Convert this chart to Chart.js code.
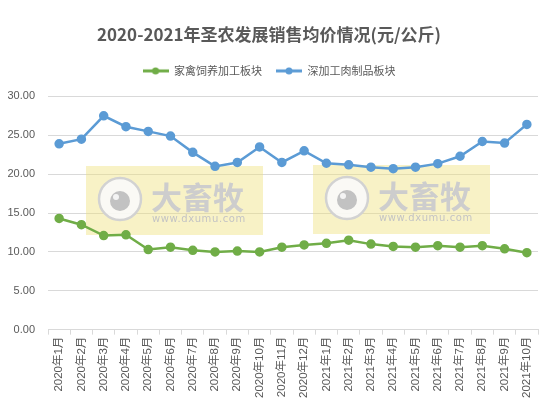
<!DOCTYPE html>
<html>
<head>
<meta charset="utf-8">
<script src="https://cdn.jsdelivr.net/npm/chart.js@4"></script>
<style>
  html, body { margin: 0; padding: 0; background: #fff; }
  #wrap { width: 548px; height: 406px; }
</style>
</head>
<body>
<div id="wrap"><canvas id="priceChart" width="548" height="406"></canvas></div>
<script>
// categories and series
const months = [
  '2020年1月', '2020年2月', '2020年3月', '2020年4月', '2020年5月', '2020年6月',
  '2020年7月', '2020年8月', '2020年9月', '2020年10月', '2020年11月', '2020年12月',
  '2021年1月', '2021年2月', '2021年3月', '2021年4月', '2021年5月', '2021年6月',
  '2021年7月', '2021年8月', '2021年9月', '2021年10月'
];
const poultry = [14.3, 13.5, 12.1, 12.2, 10.3, 10.6, 10.2, 10.0, 10.1, 10.0, 10.6, 10.9,
                 11.1, 11.5, 11.0, 10.7, 10.6, 10.8, 10.6, 10.8, 10.4, 9.9];
const processed = [23.9, 24.5, 27.5, 26.1, 25.5, 24.9, 22.8, 21.0, 21.5, 23.5, 21.5, 23.0,
                   21.4, 21.2, 20.9, 20.7, 20.9, 21.35, 22.3, 24.2, 24.0, 26.4];
const seriesNames = ['家禽饲养加工板块', '深加工肉制品板块'];
const yTicks = [0, 5, 10, 15, 20, 25, 30];

const GREEN = '#70ad47';
const BLUE = '#5b9bd5';
const FONT = '"Liberation Sans", "Noto Sans CJK SC", sans-serif';

// legend marker: short line with a dot in the middle
function legendMarker(color) {
  const c = document.createElement('canvas');
  c.width = 26; c.height = 8;
  const g = c.getContext('2d');
  g.strokeStyle = color;
  g.lineWidth = 3;
  g.beginPath(); g.moveTo(0, 4); g.lineTo(26, 4); g.stroke();
  g.fillStyle = color;
  g.beginPath(); g.arc(13, 4, 3.5, 0, Math.PI * 2); g.fill();
  return c;
}

// a bit more room under the legend
const legendGap = {
  id: 'legendGap',
  beforeInit(chart) {
    const fit = chart.legend.fit;
    chart.legend.fit = function () {
      fit.call(this);
      this.height += 10;
    };
  }
};

// the "大畜牧" watermark boxes
const watermark = {
  id: 'watermark',
  beforeDatasetsDraw(chart) {
    const ctx = chart.ctx;
    const boxes = [[86, 166], [313, 165]];
    ctx.save();
    boxes.forEach(([x, y]) => {
      ctx.fillStyle = 'rgba(238, 224, 120, 0.42)';
      ctx.fillRect(x, y, 177, 69);
      // logo circle
      ctx.beginPath();
      ctx.arc(x + 34, y + 33, 21, 0, Math.PI * 2);
      ctx.fillStyle = 'rgba(250,250,250,0.9)';
      ctx.fill();
      ctx.lineWidth = 2.5;
      ctx.strokeStyle = '#d2d2d2';
      ctx.stroke();
      ctx.beginPath();
      ctx.arc(x + 34, y + 35, 10, 0, Math.PI * 2);
      ctx.fillStyle = '#c2c2c2';
      ctx.fill();
      ctx.beginPath();
      ctx.arc(x + 30, y + 31, 3, 0, Math.PI * 2);
      ctx.fillStyle = '#f4f4f4';
      ctx.fill();
      ctx.fillStyle = '#cdcdcd';
      ctx.textBaseline = 'middle';
      ctx.textAlign = 'left';
      ctx.font = 'bold 31px "Noto Sans CJK SC", sans-serif';
      ctx.fillText('大畜牧', x + 65, y + 31);
      ctx.font = '10px "DejaVu Sans", sans-serif';
      ctx.fillStyle = '#c4c4c4';
      if ('letterSpacing' in ctx) ctx.letterSpacing = '0.6px';
      ctx.fillText('www.dxumu.com', x + 66, y + 53);
      if ('letterSpacing' in ctx) ctx.letterSpacing = '0px';
    });
    ctx.restore();
  }
};

new Chart(document.getElementById('priceChart').getContext('2d'), {
  type: 'line',
  data: {
    labels: months,
    datasets: [{
      label: seriesNames[0],
      data: poultry,
      borderColor: GREEN,
      backgroundColor: GREEN,
      borderWidth: 2.5,
      pointRadius: 3.5,
      pointBackgroundColor: GREEN,
      pointBorderColor: GREEN,
      pointStyle: 'circle',
      tension: 0
    }, {
      label: seriesNames[1],
      data: processed,
      borderColor: BLUE,
      backgroundColor: BLUE,
      borderWidth: 2.5,
      pointRadius: 3.5,
      pointBackgroundColor: BLUE,
      pointBorderColor: BLUE,
      pointStyle: 'circle',
      tension: 0
    }]
  },
  options: {
    responsive: false,
    animation: false,
    devicePixelRatio: 1,
    layout: { padding: { left: 0, right: 10, top: 8, bottom: 6 } },
    plugins: {
      title: {
        display: true,
        text: '2020-2021年圣农发展销售均价情况(元/公斤)',
        color: '#595959',
        font: { family: '"Noto Sans CJK SC", sans-serif', size: 17, weight: 'bold' },
        padding: { top: 16, bottom: 7 }
      },
      legend: {
        position: 'top',
        labels: {
          color: '#595959',
          font: { family: '"Noto Sans CJK SC", sans-serif', size: 11 },
          usePointStyle: true,
          pointStyleWidth: 26,
          generateLabels(chart) {
            return chart.data.datasets.map((ds, i) => ({
              text: ds.label,
              pointStyle: legendMarker(ds.borderColor),
              fillStyle: ds.borderColor,
              strokeStyle: ds.borderColor,
              lineWidth: 0,
              fontColor: '#595959',
              datasetIndex: i,
              hidden: false
            }));
          },
          padding: 14
        }
      },
      tooltip: { enabled: false }
    },
    scales: {
      x: {
        offset: true,
        grid: {
          display: true,
          drawOnChartArea: false,
          drawTicks: true,
          tickLength: 5,
          offset: true,
          color: '#d9d9d9'
        },
        border: { color: '#d9d9d9' },
        ticks: {
          color: '#595959',
          font: { family: FONT, size: 11.5 },
          maxRotation: 90,
          minRotation: 90,
          autoSkip: false,
          padding: 2
        }
      },
      y: {
        min: 0,
        max: 30,
        afterBuildTicks(scale) {
          scale.ticks = yTicks.map(v => ({ value: v }));
        },
        afterFit(scale) {
          scale.width = 48;
        },
        grid: { color: '#d9d9d9', drawTicks: false },
        border: { display: false },
        ticks: {
          color: '#595959',
          font: { family: FONT, size: 11 },
          padding: 13,
          callback: v => v.toFixed(2)
        }
      }
    }
  },
  plugins: [legendGap, watermark]
});
</script>
</body>
</html>
